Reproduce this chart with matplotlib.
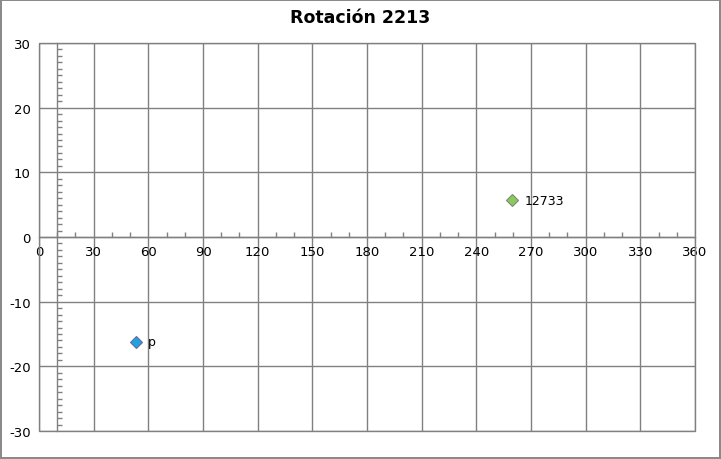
import matplotlib.pyplot as plt
from matplotlib.patches import Rectangle
from matplotlib.ticker import MultipleLocator

plt.rcParams["axes.unicode_minus"] = False

# chart data
titulo = "Rotación 2213"
etiquetas = ["p", "12733"]
x_vals = [53, 259.5]
y_vals = [-16.2, 5.7]
colores = ["#1fa3e0", "#8dc85f"]
bordes = ["#6a6a9a", "#7a8a7a"]

x_ticks = list(range(0, 361, 30))
y_ticks = list(range(-30, 31, 10))

GRIS = "#808080"

fig = plt.figure(figsize=(7.21, 4.60), dpi=100)
fig.patch.set_edgecolor("#8a8a8a")
fig.patch.set_linewidth(1.5)
ax = fig.add_axes([39 / 721, 1 - 432 / 460, 656 / 721, 388 / 460])

ax.set_xlim(0, 360)
ax.set_ylim(-30, 30)
ax.set_xticks(x_ticks)
ax.set_yticks(y_ticks)
ax.xaxis.set_minor_locator(MultipleLocator(10))
ax.yaxis.set_minor_locator(MultipleLocator(1))

ax.grid(True, which="major", color=GRIS, linewidth=1)
ax.set_axisbelow(True)

# axes cross at x=10, y=0
ax.spines["bottom"].set_position(("data", 0))
ax.spines["right"].set_position(("data", 10))
ax.spines["left"].set_visible(False)
ax.spines["top"].set_visible(False)
for s in ("bottom", "right"):
    ax.spines[s].set_color(GRIS)
    ax.spines[s].set_linewidth(1)

ax.tick_params(axis="x", which="major", length=0, pad=6, labelsize=9.5)
ax.tick_params(axis="x", which="minor", direction="in", length=3.5,
               width=1, color=GRIS, bottom=True)
ax.tick_params(axis="y", which="major", length=0, pad=6, labelsize=9.5,
               left=True, right=False, labelleft=True, labelright=False)
ax.tick_params(axis="y", which="minor", direction="out", length=3.5,
               width=1, color=GRIS, left=False, right=True)

ax.add_patch(Rectangle((0, 0), 1, 1, transform=ax.transAxes, fill=False,
                       edgecolor=GRIS, linewidth=1, clip_on=False, zorder=3))

for xv, yv, c, b, lab in zip(x_vals, y_vals, colores, bordes, etiquetas):
    ax.plot(xv, yv, marker="D", markersize=6, color=c, markeredgecolor=b,
            markeredgewidth=0.8, linestyle="none", zorder=5)
    ax.annotate(lab, (xv, yv), xytext=(9, 0), textcoords="offset points",
                fontsize=9, va="center", ha="left")

fig.text(0.5, 1 - 18 / 460, titulo, ha="center", va="center",
         fontsize=12.5, fontweight="bold")

fig.savefig("out.png", dpi=100, edgecolor=fig.get_edgecolor())
